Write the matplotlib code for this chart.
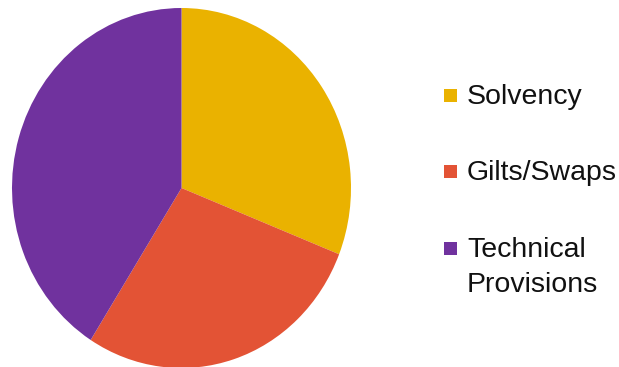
import matplotlib.pyplot as plt
from matplotlib.patches import Rectangle

plt.rcParams['font.family'] = ['Liberation Sans', 'DejaVu Sans']

labels = ["Solvency", "Gilts/Swaps", "Technical\nProvisions"]
shares = [31, 28, 41]
colors = ["#EAB200", "#E35335", "#70329E"]

W, H = 619, 367
fig = plt.figure(figsize=(W / 100, H / 100), dpi=100)
ax = fig.add_axes([12 / W, -1 / H, 339 / W, 360 / H])

wedges, _ = ax.pie(shares, colors=colors, startangle=90, counterclock=False,
                   wedgeprops=dict(linewidth=0))
ax.set_aspect('auto')
ax.set_xlim(-1, 1)
ax.set_ylim(-1, 1)
ax.axis('off')

# legend, laid out by hand so the marker sits on the first line of each label
row_y = [95, 171, 248]
sq = 13
line_px = 35
for lab, col, y in zip(labels, colors, row_y):
    fig.patches.append(Rectangle((444 / W, 1 - (y + sq / 2) / H), sq / W, sq / H,
                                 transform=fig.transFigure, color=col, lw=0))
    extra = (lab.count("\n")) * line_px
    fig.text(467 / W, 1 - (y + 9 + extra) / H, lab, fontsize=20.5, va='baseline',
             ha='left', linespacing=1.45, color='#111111')

fig.savefig("out.png", dpi=100)
